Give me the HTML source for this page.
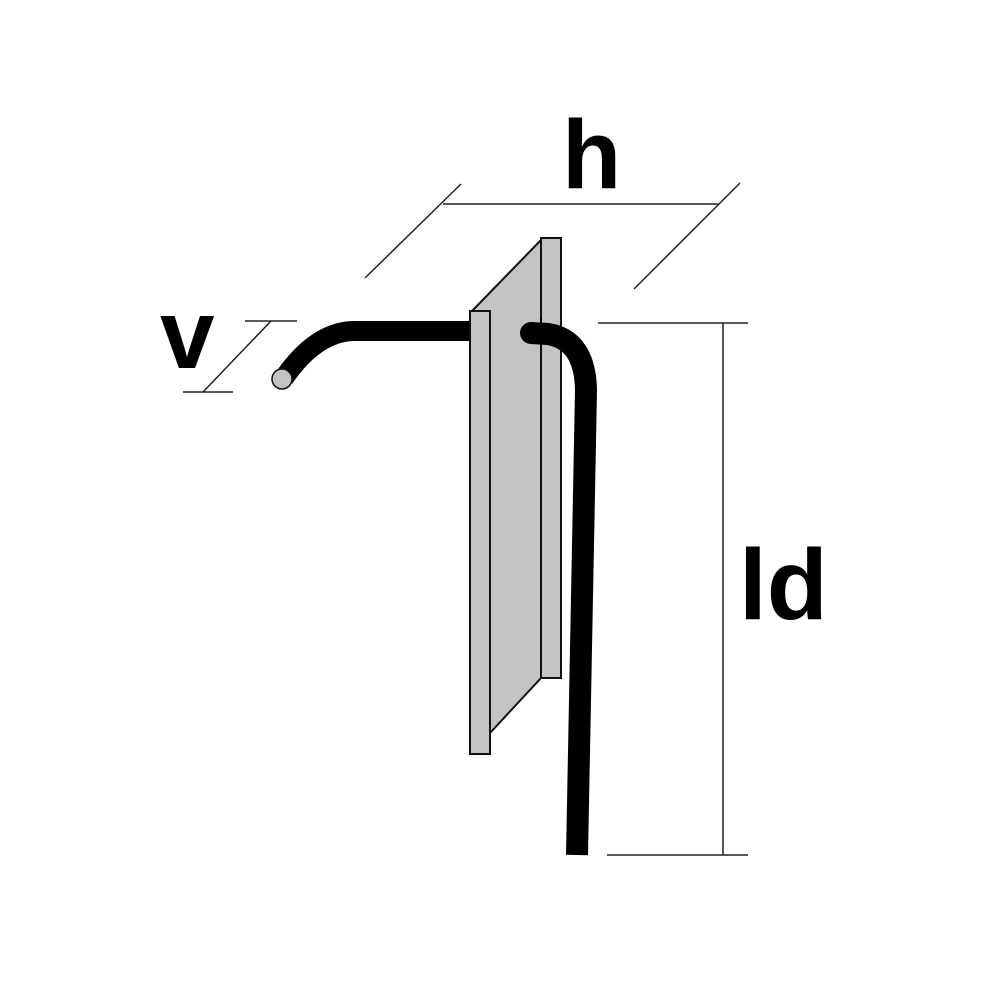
<!DOCTYPE html>
<html><head><style>html,body{margin:0;padding:0;background:#fff}svg{display:block}</style></head>
<body>
<svg width="1000" height="1000" viewBox="0 0 1000 1000" xmlns="http://www.w3.org/2000/svg">
<rect width="1000" height="1000" fill="#fff"/>
<g stroke="#222" stroke-width="1.5" fill="none">
<line x1="443" y1="204" x2="718" y2="204"/>
<line x1="365" y1="278" x2="461" y2="184"/>
<line x1="634" y1="289" x2="740" y2="183"/>
<line x1="245" y1="321" x2="297" y2="321"/>
<line x1="183" y1="392" x2="233" y2="392"/>
<line x1="203" y1="392" x2="271" y2="321"/>
<line x1="598" y1="323" x2="748" y2="323"/>
<line x1="607" y1="855" x2="748" y2="855"/>
<line x1="723" y1="323" x2="723" y2="855"/>
</g>
<polygon points="472,311 541,240 541,678 490,733 490,311" fill="#c3c3c3" stroke="#111" stroke-width="2"/>
<rect x="541" y="238" width="20" height="440" fill="#c3c3c3" stroke="#111" stroke-width="2"/>
<path d="M470,331 L352,331 Q315,333 284,378" stroke="#000" stroke-width="20" fill="none"/>
<ellipse cx="282" cy="379" rx="10" ry="10" fill="#c3c3c3" stroke="#111" stroke-width="1.5"/>
<rect x="470" y="311" width="20" height="443" fill="#c3c3c3" stroke="#111" stroke-width="2"/>
<path d="M531,333 L548,334 Q585,340 586,390 L577,855" stroke="#000" stroke-width="22" fill="none" stroke-linecap="butt"/>
<circle cx="531" cy="333" r="11" fill="#000"/>
<line x1="541" y1="318" x2="541" y2="350" stroke="#000" stroke-width="2"/>
<g font-family="Liberation Sans, sans-serif" font-weight="bold" fill="#000">
<text x="562" y="188" font-size="97">h</text>
<text x="160" y="368" font-size="98">v</text>
<text x="739" y="619" font-size="100">ld</text>
</g>
</svg>
</body></html>
